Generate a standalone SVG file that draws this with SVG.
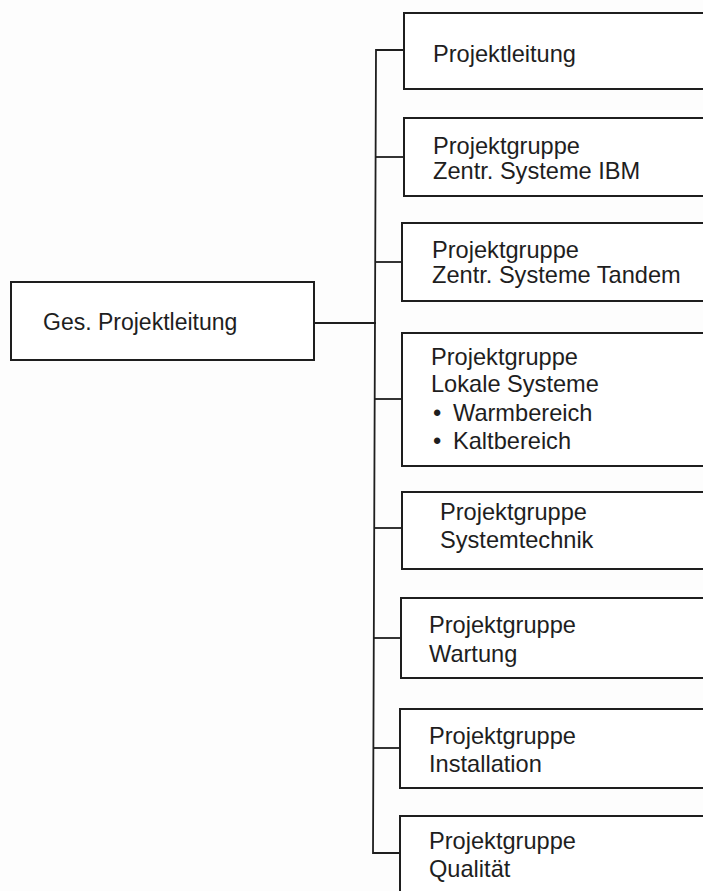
<svg xmlns="http://www.w3.org/2000/svg" width="703" height="891" viewBox="0 0 703 891">
  <style>
    .box { fill: #ffffff; stroke: #1e1e1e; stroke-width: 2; }
    .link { fill: none; stroke: #1e1e1e; stroke-width: 1.8; }
    .label { font-family: "Liberation Sans", Arial, sans-serif; font-size: 23.6px; fill: #1e1e1e; }
    .root { font-size: 23px; }
  </style>
  <rect width="703" height="891" fill="#fdfdfd"/>

  <!-- connectors: root to trunk, trunk, and branches to each group -->
  <g id="connectors">
    <path class="link" d="M314 323 H376"/>
    <path class="link" d="M404 50 H376 L373 853 H400"/>
    <path class="link" d="M376 157 H404"/>
    <path class="link" d="M376 262 H402"/>
    <path class="link" d="M375 399 H402"/>
    <path class="link" d="M375 528 H402"/>
    <path class="link" d="M374 638 H401"/>
    <path class="link" d="M374 748 H400"/>
  </g>

  <g id="ges-projektleitung">
    <rect class="box" x="11" y="282" width="303" height="78"/>
    <text class="label root" x="43" y="330">Ges. Projektleitung</text>
  </g>

  <g id="projektleitung">
    <rect class="box" x="404" y="13" width="310" height="76"/>
    <text class="label" x="433" y="62">Projektleitung</text>
  </g>

  <g id="pg-ibm">
    <rect class="box" x="404" y="118" width="310" height="78"/>
    <text class="label" x="433" y="154">Projektgruppe</text>
    <text class="label" x="433" y="179">Zentr. Systeme IBM</text>
  </g>

  <g id="pg-tandem">
    <rect class="box" x="402" y="223" width="312" height="78"/>
    <text class="label" x="432" y="258">Projektgruppe</text>
    <text class="label" x="432" y="283">Zentr. Systeme Tandem</text>
  </g>

  <g id="pg-lokal">
    <rect class="box" x="402" y="333" width="312" height="133"/>
    <text class="label" x="431" y="365">Projektgruppe</text>
    <text class="label" x="431" y="392">Lokale Systeme</text>
    <text class="label" x="433" y="421">•</text>
    <text class="label" x="453" y="421">Warmbereich</text>
    <text class="label" x="433" y="449">•</text>
    <text class="label" x="453" y="449">Kaltbereich</text>
  </g>

  <g id="pg-systemtechnik">
    <rect class="box" x="402" y="492" width="312" height="77"/>
    <text class="label" x="440" y="520">Projektgruppe</text>
    <text class="label" x="440" y="548">Systemtechnik</text>
  </g>

  <g id="pg-wartung">
    <rect class="box" x="401" y="598" width="313" height="80"/>
    <text class="label" x="429" y="633">Projektgruppe</text>
    <text class="label" x="429" y="662">Wartung</text>
  </g>

  <g id="pg-installation">
    <rect class="box" x="400" y="709" width="314" height="79"/>
    <text class="label" x="429" y="744">Projektgruppe</text>
    <text class="label" x="429" y="772">Installation</text>
  </g>

  <g id="pg-qualitaet">
    <rect class="box" x="400" y="816" width="314" height="90"/>
    <text class="label" x="429" y="849">Projektgruppe</text>
    <text class="label" x="429" y="877">Qualität</text>
  </g>
</svg>
